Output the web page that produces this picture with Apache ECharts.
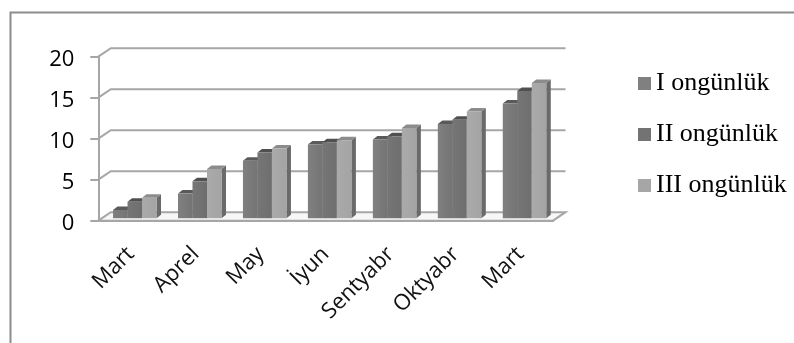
<!DOCTYPE html>
<html>
<head>
<meta charset="utf-8">
<style>html,body{margin:0;padding:0;background:#fff}#chart{width:794px;height:343px}</style>
<script src="https://cdn.jsdelivr.net/npm/echarts@6/dist/echarts.min.js"></script>
</head>
<body>
<div id="chart"></div>
<script>
// Monthly values per ten-day period
const categories = ['Mart', 'Aprel', 'May', 'İyun', 'Sentyabr', 'Oktyabr', 'Mart'];
const firstPeriod = [1, 3, 7, 9, 9.6, 11.5, 14];
const secondPeriod = [2, 4.5, 8, 9.25, 10, 12, 15.5];
const thirdPeriod = [2.5, 6, 8.5, 9.5, 11, 13, 16.5];
const yTicks = [0, 5, 10, 15, 20];
const seriesNames = ['I ongünlük', 'II ongünlük', 'III ongünlük'];

// Pseudo-3D geometry, in pixels
const WALL_DX = 12.5, WALL_DY = -8.5;   // depth of the floor and back wall
const BAR_SHIFT_X = 4, BAR_SHIFT_Y = -2.5; // bars stand a little behind the front edge
const BAR_W = 14.5, BAR_DX = 4.5, BAR_DY = -3.5;

const shades = [
  { front: ['#808080', '#747474'], top: '#5a5a5a', side: '#666666', legend: '#808080' },
  { front: ['#767676', '#6e6e6e'], top: '#505050', side: '#666666', legend: '#737373' },
  { front: ['#aaaaaa', '#a4a4a4'], top: '#8c8c8c', side: '#6a6a6a', legend: '#a6a6a6' }
];

const chart = echarts.init(document.getElementById('chart'), null, { renderer: 'canvas' });

// Back wall gridlines with their diagonal return to the value axis; the zero line also gets the floor
function renderWall(params, api) {
  const v = api.value(0);
  const p = api.coord([0, v]);
  const xBand = api.size([1, 0])[0];
  const xEnd = p[0] - xBand / 2 + xBand * categories.length;
  const xStart = p[0] - xBand / 2;
  const lineStyle = { stroke: '#a6a6a6', lineWidth: 2, fill: null };
  const children = [];
  if (v === 0) {
    children.push({
      type: 'polygon',
      shape: { points: [[xStart, p[1]], [xStart + WALL_DX, p[1] + WALL_DY], [xEnd + WALL_DX, p[1] + WALL_DY], [xEnd, p[1]]] },
      style: { fill: '#f7f7f7', stroke: '#a6a6a6', lineWidth: 2 }
    });
  } else {
    children.push({
      type: 'polyline',
      shape: { points: [[xStart, p[1]], [xStart + WALL_DX, p[1] + WALL_DY], [xEnd + WALL_DX, p[1] + WALL_DY]] },
      style: lineStyle
    });
  }
  return { type: 'group', children: children };
}

function renderBar(seriesIndex) {
  return function (params, api) {
    const top = api.coord([api.value(0), api.value(1)]);
    const base = api.coord([api.value(0), 0]);
    const x = top[0] + BAR_SHIFT_X + (seriesIndex - 1.5) * BAR_W;
    const yTop = top[1] + BAR_SHIFT_Y, yBase = base[1] + BAR_SHIFT_Y;
    const s = shades[seriesIndex];
    return {
      type: 'group',
      children: [
        {
          type: 'polygon',
          shape: { points: [[x + BAR_W, yTop], [x + BAR_W + BAR_DX, yTop + BAR_DY], [x + BAR_W + BAR_DX, yBase + BAR_DY], [x + BAR_W, yBase]] },
          style: { fill: s.side }
        },
        {
          type: 'polygon',
          shape: { points: [[x, yTop], [x + BAR_DX, yTop + BAR_DY], [x + BAR_W + BAR_DX, yTop + BAR_DY], [x + BAR_W, yTop]] },
          style: { fill: s.top }
        },
        {
          type: 'rect',
          shape: { x: x, y: yTop, width: BAR_W, height: yBase - yTop },
          style: {
            fill: new echarts.graphic.LinearGradient(0, 0, 1, 0, [
              { offset: 0, color: s.front[0] },
              { offset: 1, color: s.front[1] }
            ])
          }
        }
      ]
    };
  };
}

const valueSets = [firstPeriod, secondPeriod, thirdPeriod];

chart.setOption({
  animation: false,
  backgroundColor: '#ffffff',
  graphic: [
    { type: 'polyline', silent: true, shape: { points: [[10.5, 343], [10.5, 12.5], [794, 12.5]] }, style: { stroke: '#8c8c8c', lineWidth: 2, fill: null } }
  ],
  grid: { left: 98.3, right: 241, top: 56.7, bottom: 122.3, containLabel: false },
  legend: {
    data: seriesNames,
    orient: 'vertical',
    icon: 'rect',
    left: 638,
    top: 69,
    padding: 0,
    itemWidth: 13,
    itemHeight: 13,
    itemGap: 22,
    textStyle: { fontFamily: '"Liberation Serif", serif', fontSize: 26, color: '#000000', height: 29, lineHeight: 29 },
    selectedMode: false
  },
  xAxis: {
    type: 'category',
    data: categories,
    boundaryGap: true,
    axisLine: { lineStyle: { color: '#a6a6a6', width: 2 } },
    axisTick: { alignWithLabel: false, length: 7, lineStyle: { color: '#a6a6a6', width: 2 } },
    axisLabel: { rotate: 45, interval: 0, margin: 30, fontFamily: '"Open Sans", sans-serif', fontSize: 22, color: '#111111' },
    splitLine: { show: false }
  },
  yAxis: {
    type: 'value',
    min: 0,
    max: 20,
    interval: 5,
    axisLine: { show: true, lineStyle: { color: '#a6a6a6', width: 2 } },
    axisTick: { show: true, length: 8, lineStyle: { color: '#a6a6a6', width: 2 } },
    axisLabel: {
      margin: 24,
      formatter: '{tick|{value}}',
      rich: { tick: { padding: [7, 0, 0, 0], fontFamily: '"Open Sans", sans-serif', fontSize: 22, color: '#000000' } }
    },
    splitLine: { show: false }
  },
  series: [
    {
      type: 'custom',
      name: 'wall',
      silent: true,
      clip: false,
      z: 1,
      renderItem: renderWall,
      encode: { y: 0 },
      data: yTicks.map(function (v) { return [v]; })
    }
  ].concat(seriesNames.map(function (name, i) {
    return {
      type: 'custom',
      name: name,
      clip: false,
      z: 2 + i,
      itemStyle: { color: shades[i].legend },
      renderItem: renderBar(i),
      encode: { x: 0, y: 1 },
      data: valueSets[i].map(function (v, k) { return [k, v]; })
    };
  }))
});
</script>
</body>
</html>
